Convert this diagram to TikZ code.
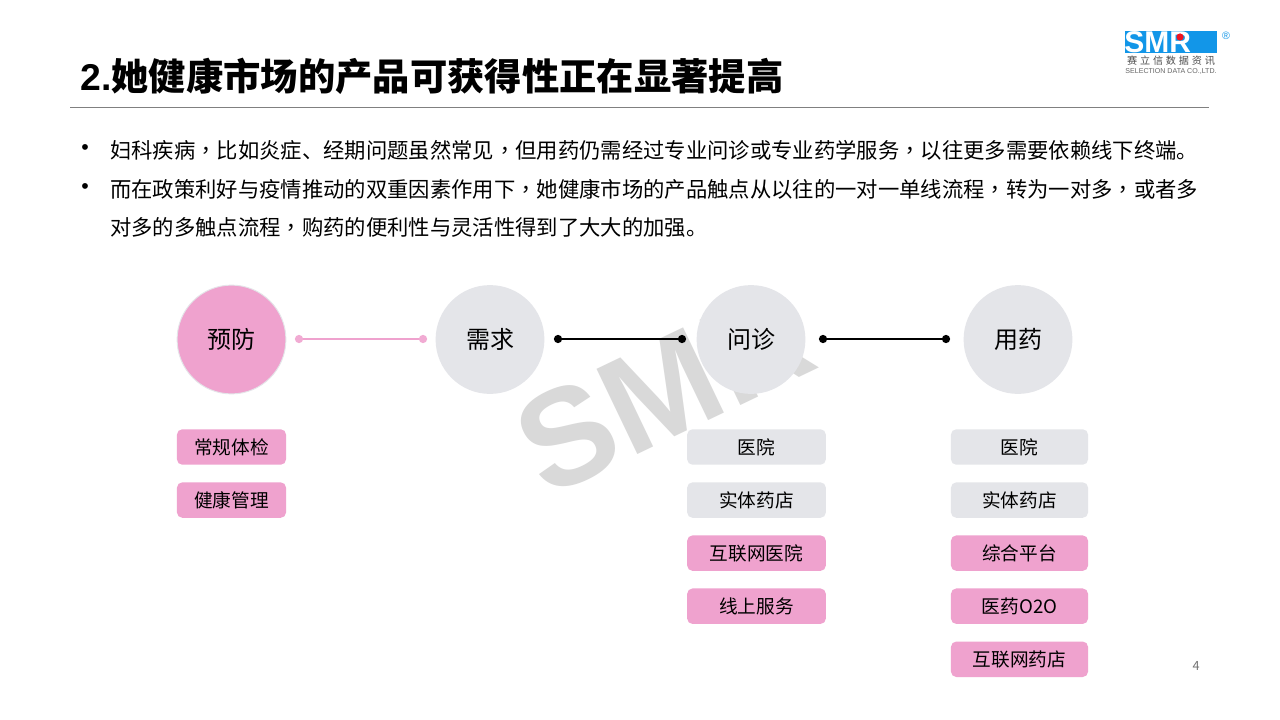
\documentclass[tikz,border=0pt]{standalone}
\usepackage{fontspec}
\setmainfont{Noto Sans CJK SC}
\newfontfamily\markfont{Liberation Sans}
\newfontfamily\commafont{Noto Sans CJK TC}
\newcommand{\cjkcomma}{{\commafont ，}}
\usepackage{xcolor}
\usetikzlibrary{positioning}
\definecolor{pinkfill}{HTML}{EFA2CE}
\definecolor{greyfill}{HTML}{E4E5E9}
\definecolor{logoblue}{HTML}{1296E8}
\definecolor{logored}{HTML}{F01420}

\begin{document}
\begin{tikzpicture}[
    x=0.75pt, y=-0.75pt,
    node distance=12.8pt,
    stage/.style={circle, fill=greyfill, minimum size=81.6pt, inner sep=0pt, font=\fontsize{18}{20}\selectfont},
    stagepink/.style={stage, fill=pinkfill, draw=greyfill, line width=0.7pt},
    tagbox/.style={rectangle, rounded corners=4pt, fill=greyfill, minimum height=26.6pt,
                   inner sep=0pt, font=\fontsize{14}{16}\selectfont},
    tagpink/.style={tagbox, fill=pinkfill},
    tagleft/.style={minimum width=81.8pt},
    tagmid/.style={minimum width=104pt},
    tagright/.style={minimum width=102.8pt},
    dot/.style={circle, fill=black, minimum size=6.2pt, inner sep=0pt},
    dotpink/.style={dot, fill=pinkfill!90!white},
    link/.style={line width=1.5pt, black},
    linkpink/.style={line width=1.5pt, pinkfill},
    para/.style={anchor=west, inner sep=0pt, font=\fontsize{16}{20}\selectfont}
]
\useasboundingbox (0,0) rectangle (1280,720);
\fill[white] (0,0) rectangle (1280,720);

% Watermark
\node[rotate=25.6, text=black!15, font=\markfont\bfseries\fontsize{103}{103}\selectfont, inner sep=0pt] (mark) at (664,390) {SMR};

% Title
\node[anchor=west, inner sep=0pt, font=\bfseries\fontsize{28}{30}\selectfont] (title) at (80,76) {{\markfont 2.}她健康市场的产品可获得性正在显著提高};
\coordinate (ruleL) at (70,107.5);
\coordinate (ruleR) at (1209,107.5);
\draw[black!50, line width=0.6pt] (ruleL) -- (ruleR);

% Logo
\node[rectangle, fill=logoblue, minimum width=69pt, minimum height=16.5pt, inner sep=0pt] (logo) at (1171,42.5) {};
\node[text=white, font=\markfont\bfseries\fontsize{22.5}{24}\selectfont, inner sep=0pt, anchor=west] (smr) at (1124,42.5) {SMR};
\node[circle, fill=logored, minimum size=5.4pt, inner sep=0pt] (logodot) at (1180,37) {};
\node[text=logoblue, font=\markfont\fontsize{8}{8}\selectfont, inner sep=0pt] (reg) at (1226,36) {®};
\node[text=black!70, font=\fontsize{7.6}{8}\selectfont, inner sep=0pt] (cname) at (1171,61) {赛\;立\;信\;数\;据\;资\;讯};
\node[text=black!60, font=\markfont\fontsize{5.3}{5.5}\selectfont, inner sep=0pt] (ename) at (1171,71) {SELECTION DATA CO.,LTD.};

% Text
\node[para, font=\markfont\fontsize{16}{20}\selectfont] (b1) at (81,150) {•};
\node[para] (t1) at (110,150) {妇科疾病\cjkcomma 比如炎症、经期问题虽然常见\cjkcomma 但用药仍需经过专业问诊或专业药学服务\cjkcomma 以往更多需要依赖线下终端。};
\node[para, font=\markfont\fontsize{16}{20}\selectfont] (b2) at (81,189) {•};
\node[para] (t2) at (110,189) {而在政策利好与疫情推动的双重因素作用下\cjkcomma 她健康市场的产品触点从以往的一对一单线流程\cjkcomma 转为一对多\cjkcomma 或者多};
\node[para] (t3) at (110,227) {对多的多触点流程\cjkcomma 购药的便利性与灵活性得到了大大的加强。};

% Stages
\node[stagepink] (prevent) at (231.5,339.5) {预防};
\node[stage] (need) at (490,339.5) {需求};
\node[stage] (consult) at (751,339.5) {问诊};
\node[stage] (medicine) at (1018,339.5) {用药};

% Dots
\node[dotpink] (d1) at (299,339) {};
\node[dotpink] (d2) at (423,339) {};
\node[dot] (d3) at (558,339) {};
\node[dot] (d4) at (682,339) {};
\node[dot] (d5) at (823,339) {};
\node[dot] (d6) at (946,339) {};

% Links
\draw[linkpink] (d1) -- (d2);
\draw[link] (d3) -- (d4);
\draw[link] (d5) -- (d6);

% Left column
\node[tagpink, tagleft] (check) at (231.5,447) {常规体检};
\node[tagpink, tagleft, below=of check] (manage) {健康管理};

% Middle column
\node[tagbox, tagmid] (hosp) at (756.5,447) {医院};
\node[tagbox, tagmid, below=of hosp] (shop) {实体药店};
\node[tagpink, tagmid, below=of shop] (nethosp) {互联网医院};
\node[tagpink, tagmid, below=of nethosp] (online) {线上服务};

% Right column
\node[tagbox, tagright] (hosp2) at (1019.5,447) {医院};
\node[tagbox, tagright, below=of hosp2] (shop2) {实体药店};
\node[tagpink, tagright, below=of shop2] (platform) {综合平台};
\node[tagpink, tagright, below=of platform] (oto) {医药O2O};
\node[tagpink, tagright, below=of oto] (netshop) {互联网药店};

% Page number
\node[text=black!55, font=\fontsize{9.5}{10}\selectfont, inner sep=0pt] (page) at (1196,666) {4};
\end{tikzpicture}
\end{document}
